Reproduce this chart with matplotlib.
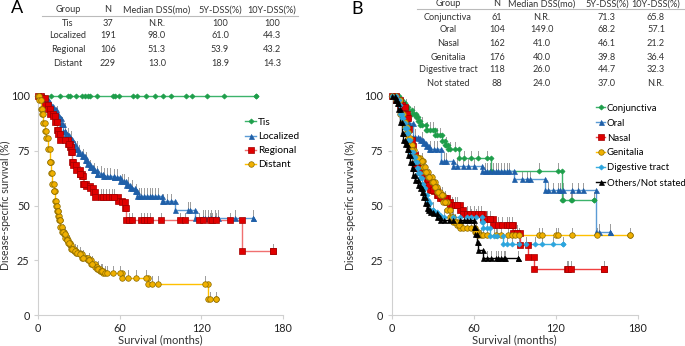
import numpy as np
import matplotlib.pyplot as plt
from matplotlib.lines import Line2D

plt.rcParams['font.family'] = ['Lato', 'DejaVu Sans']

# ---- tables ----
table_cols = ['Group', 'N', 'Median DSS(mo)', '5Y-DSS(%)', '10Y-DSS(%)']
table_a = [['Tis', '37', 'N.R.', '100', '100'],
           ['Localized', '191', '98.0', '61.0', '44.3'],
           ['Regional', '106', '51.3', '53.9', '43.2'],
           ['Distant', '229', '13.0', '18.9', '14.3']]
table_b = [['Conjunctiva', '61', 'N.R.', '71.3', '65.8'],
           ['Oral', '104', '149.0', '68.2', '57.1'],
           ['Nasal', '162', '41.0', '46.1', '21.2'],
           ['Genitalia', '176', '40.0', '39.8', '36.4'],
           ['Digestive tract', '118', '26.0', '44.7', '32.3'],
           ['Not stated', '88', '24.0', '37.0', 'N.R.']]

# ---- panel A curves: event times (months) and survival (%) after each event ----
tis_t = []
tis_s = []
tis_cens = [3.7, 9.8, 16, 22, 23.3, 27.8, 32, 34.4, 36.8, 38, 43, 55, 56.5, 59.7,
            69.5, 72.5, 79, 86, 92, 98, 109, 113, 124, 137, 160]

loc_t = [4, 7, 9, 11, 13, 15, 17, 18.5, 20, 23, 25, 27, 29.5, 32, 34.5, 36, 38, 40.5,
         43, 48, 56, 60, 65, 67.5, 71, 72.5, 91, 100.5, 115.5]
loc_s = [98.5, 97, 95.5, 94, 92, 90, 87, 84, 82, 80.5, 78, 76, 74, 72.5, 71, 69, 67.5,
         66, 64.5, 63.5, 63, 61, 59.5, 58, 56.5, 54.3, 51.9, 48.1, 44.3]
loc_cens = [14, 17.5, 19.5, 22, 24, 27, 28.5, 30, 33, 35, 38.5, 41, 43.5, 46, 48.5, 51,
            53, 56, 58, 62, 63.5, 66, 69, 72, 74, 76, 78, 80, 82, 84, 86, 88, 92, 95,
            98, 110, 112, 121, 123, 125, 127, 130, 132, 145, 158]

reg_t = [2.5, 5, 7.5, 9, 11, 12.5, 14, 15, 16, 22, 23.5, 24.5, 25, 26, 28, 30.5, 32,
         33, 35.5, 38, 40.5, 42, 59, 61.5, 64, 65, 150]
reg_s = [99, 96, 94, 92, 91, 88, 84.5, 82.5, 80, 78, 76.5, 74.5, 70, 68.5, 66, 64.5,
         63.5, 59.7, 59, 58, 56, 54, 52, 51.5, 49, 43.2, 29]
reg_cens = [19.5, 23, 31, 34, 46, 48, 50, 52, 54, 56, 67, 69, 76, 78, 80, 82, 90, 104,
            108, 118, 121, 126, 128, 131, 141, 173]

dis_t = [1, 2.5, 3.2, 3.7, 4.9, 6, 7.4, 8.6, 9.8, 10.6, 11.5, 12.3, 13, 14, 14.7,
         15.5, 16.5, 17.7, 18.9, 20, 21, 22, 23.3, 24.6, 26.3, 28.2, 30.7, 32, 35.6,
         36.8, 39.3, 41.8, 43, 45.4, 47.9, 61.4, 81, 125]
dis_s = [98, 94, 92, 87.5, 84, 81, 76, 70, 65, 60, 56.5, 52, 50, 47.5, 45, 43.3, 40,
         38, 36.8, 35.3, 34.2, 33, 32, 30, 29, 28.5, 27.7, 26.2, 26, 25, 23.3, 22, 21,
         20, 19, 17.1, 14.3, 7.1]
dis_cens = [9, 12, 14.5, 16, 18, 19.5, 21.5, 23, 25, 27, 29, 31, 33, 37.5, 40, 44,
            46, 47, 49, 51, 55, 60, 66, 72, 79, 84, 88, 123, 126, 131]

# ---- panel B curves ----
con_t = [5, 7.5, 10, 12, 15, 18, 19.5, 21, 25, 31.5, 36.5, 39, 41.5, 49, 72.5, 124.5]
con_s = [98.4, 96.7, 95.1, 93.4, 91.8, 90.2, 88.5, 86.9, 84.5, 82, 79.5, 77.8, 75.7,
         71.5, 65.8, 52.6]
con_cens = [10.5, 16, 22, 26, 28, 30, 33, 35, 40, 43, 46, 53, 58, 63, 70, 108, 122,
            125, 131, 132, 148]

ora_t = [3, 6, 8.5, 10, 12, 15.5, 19, 21, 23, 25, 27, 36, 45, 66, 89.5, 112, 149.5]
ora_s = [98.5, 96, 93.6, 91, 87.5, 81.4, 80.7, 80, 78.4, 77, 75.9, 70.3, 68.2, 65.9,
         62.1, 56.9, 38]
ora_cens = [13, 17, 22, 28, 31, 33, 38, 40, 48, 52, 56, 60, 68, 70, 72, 74, 76, 78,
            80, 82, 84, 86, 95, 99, 101, 114, 118, 122, 123, 125, 132, 136, 140, 152, 160]

nas_t = [3.5, 6, 7.5, 9.5, 11, 12, 13, 14.6, 15.5, 17, 18.8, 20.7, 23.2, 25.6, 26.8,
         28, 31, 33, 35.4, 40.2, 42.7, 50, 52.4, 67, 74.4, 89, 94, 100, 104]
nas_s = [98, 96, 95, 92, 89.8, 85, 80, 77, 73, 69, 67, 65.4, 64, 61, 59.4, 57, 56.6,
         54.8, 53.3, 51.8, 50.2, 48, 46.1, 44, 41.2, 37.5, 31.8, 26.5, 21.2]
nas_cens = [20, 27, 30, 34, 37, 39, 44, 46, 48, 55, 57, 60, 63, 65, 70, 72, 78, 81,
            84, 86, 88, 92, 128, 129, 131, 155]

gen_t = [3.5, 6, 8.5, 10, 11, 12.2, 13.4, 14.6, 16, 18.5, 20.7, 23, 24.4, 26.8, 29.3,
         31.7, 33, 35.4, 37.8, 40.2, 42.7, 45.1, 47.6, 50, 61, 63.4]
gen_s = [98, 92, 88, 86, 83.7, 80.7, 77.6, 75.3, 72.3, 71.5, 70.3, 67.7, 65.4, 63,
         60.9, 58.6, 56.3, 54.8, 51.8, 48, 44.9, 42.6, 41.1, 39.8, 38, 36.4]
gen_cens = [12, 15, 17.5, 19, 22, 25, 27.5, 30, 32, 34, 36.5, 39, 44, 46, 49, 52, 55,
            58, 62, 65, 67, 70, 76, 80, 85, 88, 90, 93, 108, 110, 120, 122, 132, 150,
            174.4]

dig_t = [3, 5, 6, 7.3, 8.5, 9.8, 11, 12.2, 13.4, 15.9, 17, 18.3, 19.5, 20.7, 22, 23.2,
         24.4, 25.6, 26.8, 28, 30.5, 32.9, 35.4, 65.9, 67, 72, 81.7]
dig_s = [98, 96, 92, 89.8, 87.5, 85.2, 83, 80, 74.6, 72.3, 70, 67, 64.7, 62.4, 60,
         57.8, 54.8, 52.5, 51, 48, 47, 45.5, 44.7, 42.6, 39.6, 36.2, 32.3]
dig_cens = [14, 21, 30, 38, 45, 50, 55, 58, 62, 70, 75, 77, 84, 88, 93, 98, 105,
            110, 118, 125.6]

oth_t = [2.4, 3.7, 4.9, 6.1, 7.3, 8.5, 9.8, 11, 12.2, 13.4, 14.6, 15.9, 17, 19.5,
         20.7, 22, 23.2, 24.4, 25.6, 26.8, 28, 30.5, 32.9, 35.4, 60.2, 61, 62.2, 63.4,
         66.6]
oth_s = [98, 97, 94, 88, 83, 80, 78, 76, 73, 70, 67, 64, 61.6, 59.4, 57.8, 56.3, 54,
         51, 48.7, 48, 47.2, 46.4, 44.9, 43.4, 40.3, 37, 33.5, 29.7, 25.9]
oth_cens = [38, 42, 45, 50, 53, 55, 57, 70, 73, 76, 78, 80, 82, 83, 92.7]


def surv_at(t_ev, s_ev, t):
    s = 100.0
    for te, se in zip(t_ev, s_ev):
        if te <= t:
            s = se
    return s


def draw_km(ax, t_ev, s_ev, cens, line_c, mark_c, edge_c, marker, ms, label):
    t_end = max(cens) if cens else max(t_ev)
    xs, ys = [0], [100]
    prev = 100
    for te, se in zip(t_ev, s_ev):
        xs += [te, te]
        ys += [prev, se]
        prev = se
    xs.append(t_end)
    ys.append(prev)
    ax.plot(xs, ys, color=line_c, lw=1.0, zorder=2, clip_on=False)
    cs = [surv_at(t_ev, s_ev, c) for c in cens]
    # censor ticks
    for c, s in zip(cens, cs):
        if s < 99.9:
            ax.plot([c, c], [s, s + 3.5], color='#9a9a9a', lw=0.7, zorder=1.5)
    ax.plot(xs + list(cens), ys + cs, ls='none', marker=marker, ms=ms,
            mfc=mark_c, mec=edge_c, mew=0.5, zorder=3, clip_on=False)
    return Line2D([], [], color=line_c, lw=1.0, marker=marker, ms=ms,
                  mfc=mark_c, mec=edge_c, mew=0.5, label=label)


def style_axes(ax, ylab_x):
    ax.set_xlim(0, 180)
    ax.set_ylim(0, 100)
    ax.set_xticks([0, 60, 120, 180])
    ax.set_yticks([0, 25, 50, 75, 100])
    for side in ['top', 'right']:
        ax.spines[side].set_visible(False)
    for side in ['left', 'bottom']:
        ax.spines[side].set_color('#d0d0d0')
        ax.spines[side].set_linewidth(0.8)
    ax.tick_params(colors='#d0d0d0', labelcolor='#222222', labelsize=7.8,
                   length=3, width=0.8, pad=3)
    ax.set_xlabel('Survival (months)', fontsize=8, color='#333333', labelpad=0)
    ax.set_ylabel('Disease-specific survival (%)', fontsize=7.6, color='#333333')
    ax.yaxis.set_label_coords(ylab_x, 0.5)


W, H = 685, 346
fig = plt.figure(figsize=(6.85, 3.46), dpi=100)


def fx(px):
    return px / W


def fy(py):
    return 1 - py / H


def draw_table(cols_x, head_y, rows_y, rows, line_x0, line_x1, line_y):
    for x, c in zip(cols_x, table_cols):
        fig.text(fx(x), fy(head_y), c, ha='center', va='center', fontsize=6.6,
                 color='#333333')
    fig.add_artist(Line2D([fx(line_x0), fx(line_x1)], [fy(line_y), fy(line_y)],
                          color='#bbbbbb', lw=0.8))
    for y, row in zip(rows_y, rows):
        for x, v in zip(cols_x, row):
            fig.text(fx(x), fy(y), v, ha='center', va='center', fontsize=6.6,
                     color='#333333')


leg_kw = dict(loc='upper left', frameon=False, fontsize=7.3, handlelength=1.1,
              handletextpad=0.15, labelspacing=0.5, borderpad=0, borderaxespad=0)

# ---- panel A ----
axA = fig.add_axes([fx(38), fy(315), fx(283 - 38), (315 - 96) / H])
style_axes(axA, -0.11)
hA = [draw_km(axA, tis_t, tis_s, tis_cens, '#3cb36b', '#1e9e4a', '#1e9e4a', 'D', 2.6, 'Tis'),
      draw_km(axA, loc_t, loc_s, loc_cens, '#5b9bd5', '#1f5fa8', '#1f5fa8', '^', 3.6, 'Localized'),
      draw_km(axA, reg_t, reg_s, reg_cens, '#f07070', '#e00000', '#a00000', 's', 3.8, 'Regional'),
      draw_km(axA, dis_t, dis_s, dis_cens, '#ffc000', '#f0b000', '#8a6a00', 'o', 4.0, 'Distant')]
axA.legend(handles=hA, bbox_to_anchor=(0.845, 0.9), **leg_kw)
fig.text(fx(17), fy(8), 'A', fontsize=13, ha='center', va='center')
draw_table([68, 108, 157, 220, 272], 10, [23, 36, 50, 63], table_a, 42, 298, 15.5)

# ---- panel B ----
axB = fig.add_axes([fx(391.7), fy(315), fx(637.7 - 391.7), (315 - 96) / H])
style_axes(axB, -0.145)
hB = [draw_km(axB, con_t, con_s, con_cens, '#3cb36b', '#1e9e4a', '#1e9e4a', 'D', 2.6, 'Conjunctiva'),
      draw_km(axB, ora_t, ora_s, ora_cens, '#5b9bd5', '#1f5fa8', '#1f5fa8', '^', 3.6, 'Oral'),
      draw_km(axB, nas_t, nas_s, nas_cens, '#f04040', '#e00000', '#a00000', 's', 3.8, 'Nasal'),
      draw_km(axB, gen_t, gen_s, gen_cens, '#ffc000', '#f0b000', '#8a6a00', 'o', 4.0, 'Genitalia'),
      draw_km(axB, dig_t, dig_s, dig_cens, '#3bb0e0', '#2ca5de', '#2ca5de', 'D', 2.6, 'Digestive tract'),
      draw_km(axB, oth_t, oth_s, oth_cens, '#000000', '#000000', '#000000', '^', 3.6, 'Others/Not stated')]
leg_b = dict(leg_kw, fontsize=6.9, handlelength=1.0, labelspacing=0.62)
axB.legend(handles=hB, bbox_to_anchor=(0.83, 0.965), **leg_b)
fig.text(fx(357), fy(9), 'B', fontsize=13, ha='center', va='center')
draw_table([448, 497, 542, 607, 656], 4, [17, 30, 43, 57, 70, 83], table_b, 417, 685, 9)

fig.savefig('out.png', dpi=100)
